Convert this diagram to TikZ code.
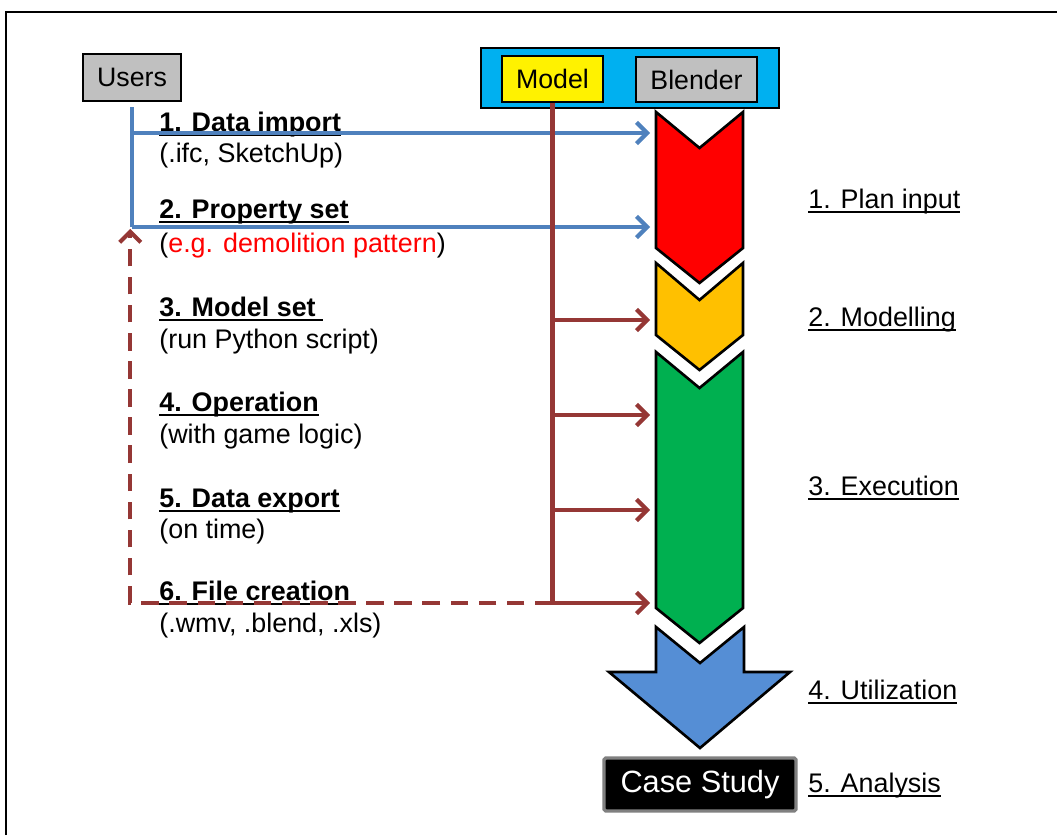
\documentclass[tikz,border=0pt]{standalone}
\usepackage{fontspec}
\setmainfont{Liberation Sans}
\usepackage{tikz}
\usetikzlibrary{arrows.meta}
\definecolor{userblue}{HTML}{4F81BD}
\definecolor{modelbrown}{HTML}{953735}
\definecolor{barcyan}{HTML}{00B0F0}
\definecolor{boxgray}{HTML}{C0C0C0}
\definecolor{planred}{HTML}{FF0000}
\definecolor{modelorange}{HTML}{FFC000}
\definecolor{execgreen}{HTML}{00B050}
\definecolor{utilblue}{HTML}{558ED5}
% underline at a fixed depth, through the descenders
\newcommand{\ulined}[1]{\setbox0\hbox{#1}\rlap{\rule[-2.8pt]{\wd0}{0.9pt}}\box0}
\newcommand{\steptitle}[1]{\textbf{\ulined{#1}}}

\tikzset{
  txt/.style={anchor=base west, inner sep=0pt, font=\fontsize{15.3}{18}\selectfont},
  tag/.style={draw=black, line width=0.9pt, fill=boxgray, inner sep=0pt,
    font=\fontsize{15.2}{17}\selectfont},
  stage/.style={draw=black, line width=1.5pt, line join=miter},
  userline/.style={draw=userblue, line width=2.4pt},
  modelline/.style={draw=modelbrown, line width=2.4pt},
  >={Straight Barb[length=6pt,width=12pt]}
}

\begin{document}
\begin{tikzpicture}[x=0.02cm, y=-0.02cm]
  \useasboundingbox (0,0) rectangle (1057,835);
  \draw[line width=1.2pt] (6,835) -- (6,12) -- (1057,12);

  % Blender with the model inside
  \node[draw=black, line width=1.2pt, fill=barcyan, minimum width=5.96cm, minimum height=1.2cm] (bar) at (630,78) {};
  \node[tag, fill=yellow, minimum width=2.02cm, minimum height=0.92cm] (model) at (552.5,79) {Model};
  \node[tag, minimum width=2.42cm, minimum height=0.9cm] (blender) at (696.5,79.5) {Blender};
  \node[tag, minimum width=1.96cm, minimum height=0.94cm] (users) at (132,77.5) {Users};

  % process chevrons
  \draw[stage, fill=planred] (656,112) -- (699.5,148) -- (743,112) -- (743,248) -- (699.5,283) -- (656,248) -- cycle;
  \draw[stage, fill=modelorange] (656,263) -- (699.5,300) -- (743,263) -- (743,335) -- (699.5,370) -- (656,335) -- cycle;
  \draw[stage, fill=execgreen] (656,352) -- (699.5,388) -- (743,352) -- (743,608) -- (699.5,643) -- (656,608) -- cycle;
  \draw[stage, fill=utilblue] (656,627) -- (700,663) -- (744,627) -- (744,672) -- (790,672) -- (700,748) -- (609,672) -- (656,672) -- cycle;

  \node[fill=black, draw=gray, line width=1.9pt, rounded corners=1pt, text=white, minimum width=3.84cm, minimum height=1.06cm,
    font=\fontsize{17.5}{20}\selectfont] (case) at (700,784.5) {Case Study};

  % steps on the left
  \node[txt] (s1) at (159,131) {\steptitle{1. Data import}};
  \node[txt] (s1x) at (159,162) {(.ifc, SketchUp)};
  \node[txt] (s2) at (159,218) {\steptitle{2. Property set}};
  \node[txt] (s2x) at (159,252) {(\textcolor{red}{e.g. demolition pattern})};
  \node[txt] (s3) at (159,316) {\steptitle{3. Model set\ }};
  \node[txt] (s3x) at (159,348) {(run Python script)};
  \node[txt] (s4) at (159,411) {\steptitle{4. Operation}};
  \node[txt] (s4x) at (159,443) {(with game logic)};
  \node[txt] (s5) at (159,507) {\steptitle{5. Data export}};
  \node[txt] (s5x) at (159,538) {(on time)};
  \node[txt] (s6) at (159,600) {\steptitle{6. File creation}};
  \node[txt] (s6x) at (159,632) {(.wmv, .blend, .xls)};

  % phases on the right
  \node[txt] (p1) at (808,208) {\ulined{1. Plan input}};
  \node[txt] (p2) at (808,326) {\ulined{2. Modelling}};
  \node[txt] (p3) at (808,495) {\ulined{3. Execution}};
  \node[txt] (p4) at (808,699) {\ulined{4. Utilization}};
  \node[txt] (p5) at (808,792) {\ulined{5. Analysis}};

  % arrows into the chevrons
  \coordinate (in1) at (650,133);
  \coordinate (in2) at (650,227);
  \coordinate (in3) at (650,320);
  \coordinate (in4) at (650,415);
  \coordinate (in5) at (650,510);
  \coordinate (in6) at (650,603);

  \draw[userline] ([yshift=-3pt]users.south) -- (users.south |- in2);
  \draw[userline,->] (users.south |- in1) -- (in1);
  \draw[userline,->] (users.south |- in2) -- (in2);

  \draw[modelline] (model.south) -- (model.south |- in6);
  \foreach \i in {3,...,6}
    \draw[modelline,->] (model.south |- in\i) -- (in\i);

  % feedback to the users
  \draw[modelline, dash pattern=on 10pt off 6pt, ->, shorten >=1pt]
    (model.south |- in6) -| ([xshift=-1pt]users.south |- in2);
\end{tikzpicture}
\end{document}
